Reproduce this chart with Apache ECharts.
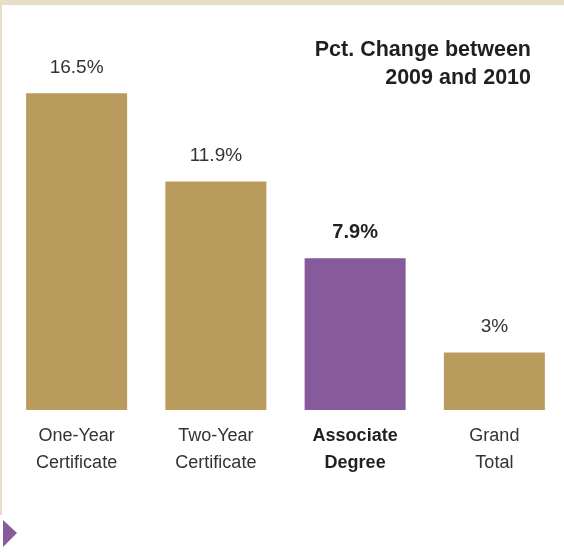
<!DOCTYPE html>
<html>
<head>
<meta charset="utf-8">
<script src="https://cdn.jsdelivr.net/npm/echarts@6/dist/echarts.min.js"></script>
<style>
  html, body { margin: 0; padding: 0; background: #fff; }
  #main { width: 564px; height: 552px; }
</style>
</head>
<body>
<div id="main"></div>
<script>
  // data
  var categories = ['One-Year\nCertificate', 'Two-Year\nCertificate', 'Associate\nDegree', 'Grand\nTotal'];
  var values = [16.5, 11.9, 7.9, 3];
  var highlight = [false, false, true, false];

  var GOLD = '#B99B5E';
  var PURPLE = '#875B9B';
  var FONT = '"Liberation Sans", Arial, sans-serif';

  var barData = values.map(function (v, i) {
    return {
      value: v,
      itemStyle: { color: highlight[i] ? PURPLE : GOLD },
      label: highlight[i] ? { fontWeight: 'bold', fontSize: 20, color: '#231F20' } : {}
    };
  });

  var chart = echarts.init(document.getElementById('main'), null, { renderer: 'canvas' });
  chart.setOption({
    animation: false,
    backgroundColor: '#fff',
    title: {
      text: 'Pct. Change between\n2009 and 2010',
      left: 526,
      top: 31,
      textAlign: 'right',
      textStyle: {
        fontFamily: FONT,
        fontSize: 21.5,
        fontWeight: 'bold',
        color: '#231F20',
        lineHeight: 28,
        align: 'right'
      }
    },
    grid: { left: 7, width: 560, top: 26, bottom: 142 },
    xAxis: {
      type: 'category',
      data: categories,
      axisLine: { show: false },
      axisTick: { show: false },
      axisLabel: {
        interval: 0,
        margin: 13,
        fontFamily: FONT,
        fontSize: 18,
        lineHeight: 27,
        color: '#333',
        formatter: function (v, i) {
          return highlight[i] ? '{b|' + v.split('\n').join('}\n{b|') + '}' : v;
        },
        rich: {
          b: { fontFamily: FONT, fontSize: 18, lineHeight: 27, fontWeight: 'bold', color: '#231F20' }
        }
      }
    },
    yAxis: {
      type: 'value',
      min: 0,
      max: 20,
      show: false,
      splitLine: { show: false }
    },
    series: [{
      type: 'bar',
      data: barData,
      barWidth: 101,
      label: {
        show: true,
        position: 'top',
        distance: 16,
        fontFamily: FONT,
        fontSize: 19,
        color: '#333',
        formatter: function (p) { return p.value + '%'; }
      }
    }],
    graphic: [
      { type: 'rect', left: 0, top: 0, shape: { width: 564, height: 5 }, style: { fill: '#E8DEC8' }, silent: true },
      { type: 'rect', left: 0, top: 0, shape: { width: 2, height: 515 }, style: { fill: '#E8DEC8' }, silent: true },
      { type: 'polygon', shape: { points: [[3, 520], [17, 533], [3, 547]] }, style: { fill: PURPLE }, silent: true }
    ]
  });
</script>
</body>
</html>
